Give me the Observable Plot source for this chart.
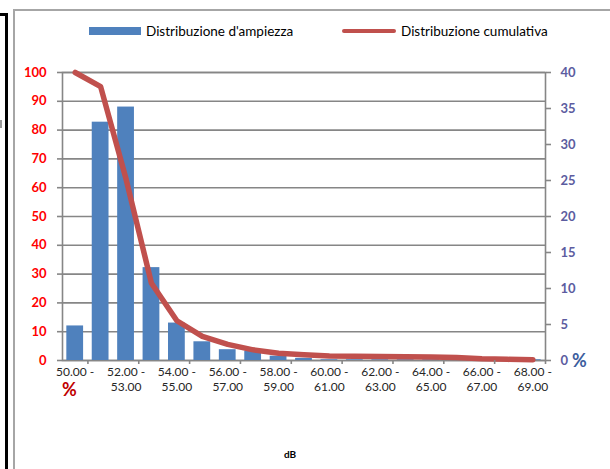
<!DOCTYPE html>
<html><head><meta charset="utf-8">
<script src="https://cdn.jsdelivr.net/npm/d3@7"></script>
<script src="https://cdn.jsdelivr.net/npm/@observablehq/plot@0.6"></script>
<style>
body{margin:0;background:#fff;font-family:Lato,sans-serif}
#wrap{position:relative;width:610px;height:469px;overflow:hidden;background:#fff}
#chart{position:absolute;left:0;top:0}
.abs{position:absolute}
.leg{position:absolute;font-size:13.5px;color:#000;line-height:16px;white-space:nowrap}
</style></head><body>
<div id="wrap">
  <div class="abs" style="left:0;top:13px;width:8px;height:3px;background:#000"></div>
  <div class="abs" style="left:5px;top:13px;width:3px;height:460px;background:#000"></div>
  <div class="abs" style="left:0;top:120px;width:2px;height:8px;background:#999"></div>
  <div class="abs" style="left:13px;top:9px;width:600px;height:2px;background:#a6a6a6"></div>
  <div class="abs" style="left:13px;top:9px;width:2px;height:460px;background:#a6a6a6"></div>
  <div id="chart"></div>
  <div class="abs" style="left:89px;top:27px;width:52px;height:8px;background:#4f81bd"></div>
  <div class="leg" style="left:146px;top:23px">Distribuzione d'ampiezza</div>
  <div class="abs" style="left:342px;top:29px;width:54px;height:4px;background:#c0504d;border-radius:2px"></div>
  <div class="leg" style="left:401px;top:23px">Distribuzione cumulativa</div>
  <div class="abs" style="left:62px;top:380px;font-size:18px;line-height:18px;font-weight:bold;color:#c00000">%</div>
  <div class="abs" style="left:572px;top:349px;font-size:18px;font-weight:bold;color:#3c5d9e">%</div>
  <div class="abs" style="left:284px;top:448px;font-size:10px;font-weight:bold;color:#000">dB</div>
</div>
<script>
const categories = ["50.00 - 51.00","51.00 - 52.00","52.00 - 53.00","53.00 - 54.00","54.00 - 55.00","55.00 - 56.00","56.00 - 57.00","57.00 - 58.00","58.00 - 59.00","59.00 - 60.00","60.00 - 61.00","61.00 - 62.00","62.00 - 63.00","63.00 - 64.00","64.00 - 65.00","65.00 - 66.00","66.00 - 67.00","67.00 - 68.00","68.00 - 69.00"];
const ampiezza = [4.8, 33.1, 35.2, 12.9, 5.2, 2.6, 1.5, 1.3, 0.6, 0.3, 0.1, 0.1, 0.1, 0.1, 0.1, 0.2, 0.1, 0.05, 0.1];
const cumulativa = [100, 95.1, 63, 26.8, 13.8, 8.4, 5.6, 3.7, 2.5, 2.0, 1.6, 1.5, 1.4, 1.3, 1.2, 1.0, 0.6, 0.4, 0.3];
const leftTicks = [0,10,20,30,40,50,60,70,80,90,100];
const rightTicks = [0,5,10,15,20,25,30,35,40];

const W = 610, H = 469, ML = 62, MR = 65, MT = 72, MB = 109;
const leftMax = 100, rightMax = 40, k = leftMax / rightMax;
const rows = categories.map((c,i) => ({cat:c, amp:ampiezza[i], cum:cumulativa[i]}));
const labelCats = categories.filter((d,i) => i % 2 === 0);
const step = (W - ML - MR) / categories.length;
const grey = "#868686";

const chart = Plot.plot({
  width: W, height: H, marginLeft: ML, marginRight: MR, marginTop: MT, marginBottom: MB,
  style: {background: "transparent", fontFamily: "Lato, sans-serif"},
  x: {type: "band", domain: categories, paddingInner: 0.34, paddingOuter: 0.17, round: false},
  y: {domain: [0, leftMax]},
  marks: [
    Plot.gridY(leftTicks, {stroke: grey, strokeOpacity: 1, strokeWidth: 1.6}),
    Plot.frame({stroke: grey, strokeWidth: 1.6}),
    Plot.barY(rows, {x: "cat", y: d => d.amp * k, fill: "#4f81bd"}),
    Plot.lineY(rows, {x: "cat", y: "cum", stroke: "#c0504d", strokeWidth: 5.5, strokeLinejoin: "round"}),
    Plot.axisY(leftTicks, {anchor: "left", tickSize: 5, tickPadding: 11, stroke: grey, strokeWidth: 1.6,
      fill: "#ff0000", fontWeight: "bold", fontSize: 13, label: null}),
    Plot.axisY(rightTicks.map(v => v * k), {anchor: "right", tickSize: 5, tickPadding: 10, stroke: grey, strokeWidth: 1.6,
      fill: "#5c5ca0", fontWeight: "bold", fontSize: 13, label: null, tickFormat: d => String(d / k)}),
    Plot.axisX(labelCats, {tickSize: 0, tickPadding: 4, fontSize: 12, fill: "#262626", lineHeight: 1.3, label: null,
      tickFormat: d => { const [a, b] = d.split(" - "); return d === categories[0] ? a + " -" : a + " -\n" + b; }}),
    Plot.axisX(labelCats, {tickSize: 4, stroke: grey, strokeWidth: 1.6, dx: step / 2, tickFormat: () => "", label: null})
  ]
});
document.getElementById("chart").append(chart);
</script>
</body></html>
